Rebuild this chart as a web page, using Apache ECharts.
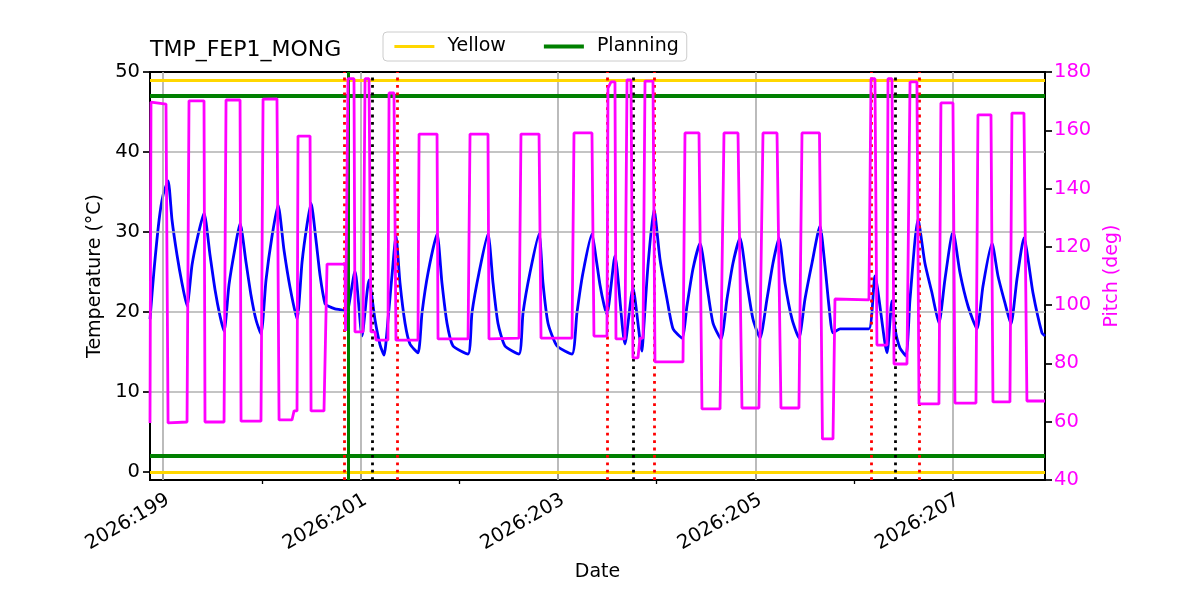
<!DOCTYPE html>
<html>
<head>
<meta charset="utf-8">
<title>TMP_FEP1_MONG</title>
<script src="https://cdn.jsdelivr.net/npm/echarts@6/dist/echarts.min.js"></script>
<style>
  html, body { margin: 0; padding: 0; background: #fff; }
  #chart { width: 1200px; height: 600px; }
</style>
</head>
<body>
<div id="chart"></div>
<script>
// time in day-of-year 2026 (fractional)
const tempDay = [
  198.868, 198.909, 198.960, 199.000, 199.051, 199.091, 199.142, 199.192, 199.243,
  199.294, 199.354, 199.415, 199.476, 199.527, 199.577, 199.618, 199.668, 199.729,
  199.780, 199.840, 199.891, 199.942, 199.992, 200.043, 200.104, 200.165, 200.225,
  200.286, 200.357, 200.408, 200.458, 200.499, 200.549, 200.590, 200.641, 200.671,
  200.742, 200.843, 200.853, 200.944, 201.015, 201.086, 201.147, 201.198, 201.238,
  201.278, 201.319, 201.359, 201.400, 201.451, 201.501, 201.582, 201.623, 201.684,
  201.775, 201.825, 201.876, 201.937, 202.089, 202.129, 202.200, 202.291, 202.342,
  202.392, 202.463, 202.605, 202.646, 202.716, 202.808, 202.848, 202.899, 202.990,
  203.142, 203.192, 203.253, 203.344, 203.385, 203.425, 203.466, 203.496, 203.577,
  203.678, 203.759, 203.851, 203.861, 203.911, 203.972, 204.033, 204.104, 204.165,
  204.256, 204.306, 204.367, 204.438, 204.509, 204.570, 204.651, 204.711, 204.772,
  204.843, 204.914, 204.975, 205.046, 205.116, 205.177, 205.238, 205.299, 205.370,
  205.440, 205.501, 205.572, 205.653, 205.704, 205.744, 205.785, 205.856, 205.987,
  206.149, 206.210, 206.332, 206.382, 206.413, 206.463, 206.524, 206.565, 206.646,
  206.716, 206.787, 206.858, 206.919, 207.000, 207.071, 207.152, 207.243, 207.304,
  207.395, 207.456, 207.527, 207.587, 207.648, 207.719, 207.810, 207.901, 207.932
];
const tempValue = [
  19.1, 25.25, 31.5, 34.6, 36.4, 31.5, 27.1, 23.6, 20.75,
  25.9, 29.6, 32.4, 27.1, 22.75, 19.5, 17.6, 23.4, 28.0,
  31.1, 26.25, 22.1, 19.0, 17.25, 24.0, 29.5, 33.4, 27.75,
  23.1, 19.1, 26.25, 30.9, 33.6, 29.0, 24.6, 21.0, 20.75,
  20.4, 20.1, 19.25, 25.1, 17.0, 24.0, 19.0, 15.9, 14.6,
  19.0, 24.6, 29.5, 23.6, 18.6, 16.0, 14.9, 19.9, 24.9,
  29.75, 23.6, 18.6, 15.75, 14.75, 19.9, 24.9, 29.75, 23.6,
  18.6, 15.75, 14.75, 19.9, 24.9, 29.75, 23.6, 18.6, 15.75,
  14.75, 19.9, 24.9, 29.75, 26.75, 23.4, 20.9, 19.75, 27.0,
  16.0, 23.0, 15.1, 16.6, 25.75, 32.9, 26.6, 21.6, 17.9,
  16.75, 20.75, 25.4, 28.6, 23.25, 18.6, 16.6, 21.6, 26.1,
  29.25, 23.6, 19.1, 16.75, 21.6, 26.1, 29.25, 23.6, 19.1,
  16.75, 21.6, 26.1, 30.75, 25.75, 20.75, 17.4, 17.9, 17.9,
  17.9, 24.5, 14.9, 21.4, 17.9, 15.5, 14.5, 21.6, 31.6,
  26.1, 22.4, 18.6, 24.1, 30.1, 24.9, 20.75, 17.9, 23.25,
  28.6, 24.5, 21.1, 18.5, 24.1, 29.25, 22.4, 17.4, 17.0
];

const pitchDay = [
  198.868, 198.878, 199.030, 199.051, 199.243, 199.263, 199.415, 199.425, 199.618, 199.638,
  199.780, 199.790, 199.992, 200.013, 200.154, 200.175, 200.306, 200.327, 200.357, 200.367,
  200.489, 200.499, 200.630, 200.661, 200.843, 200.848, 200.873, 200.934, 200.944, 201.025,
  201.046, 201.086, 201.106, 201.147, 201.157, 201.278, 201.289, 201.339, 201.359, 201.582,
  201.593, 201.775, 201.785, 202.089, 202.109, 202.291, 202.301, 202.605, 202.625, 202.808,
  202.828, 203.142, 203.162, 203.344, 203.364, 203.496, 203.506, 203.537, 203.577, 203.587,
  203.678, 203.699, 203.739, 203.759, 203.810, 203.830, 203.861, 203.881, 203.962, 203.982,
  204.266, 204.286, 204.428, 204.458, 204.641, 204.681, 204.823, 204.863, 205.035, 205.076,
  205.218, 205.258, 205.440, 205.471, 205.648, 205.678, 205.785, 205.805, 206.149, 206.170,
  206.210, 206.230, 206.332, 206.342, 206.382, 206.403, 206.534, 206.565, 206.635, 206.656,
  206.858, 206.878, 207.000, 207.020, 207.233, 207.253, 207.385, 207.405, 207.577, 207.597,
  207.719, 207.749, 207.932
];
const pitchValue = [
  59.6, 169.7, 169.0, 59.6, 59.9, 170.1, 170.1, 59.9, 59.9, 170.4,
  170.4, 60.2, 60.2, 170.7, 170.8, 60.6, 60.6, 63.7, 63.7, 158.0,
  158.0, 63.7, 63.7, 114.1, 114.1, 91.1, 177.7, 177.7, 90.8, 90.8,
  177.7, 177.7, 90.8, 90.8, 88.0, 88.0, 172.8, 172.8, 88.0, 88.0,
  158.7, 158.7, 88.4, 88.4, 158.7, 158.7, 88.4, 88.7, 158.7, 158.7,
  88.7, 88.7, 159.1, 159.1, 89.4, 89.4, 174.5, 176.6, 176.6, 88.4,
  88.4, 177.3, 177.3, 81.9, 81.9, 88.7, 88.7, 176.9, 176.9, 80.5,
  80.5, 159.1, 159.1, 64.4, 64.4, 159.1, 159.1, 64.7, 64.7, 159.1,
  159.1, 64.7, 64.7, 159.1, 159.1, 54.1, 54.1, 102.1, 101.8, 177.7,
  177.7, 86.3, 86.3, 177.7, 177.7, 79.8, 79.8, 176.6, 176.6, 66.1,
  66.1, 169.4, 169.4, 66.4, 66.4, 165.3, 165.3, 66.8, 66.8, 165.9,
  165.9, 67.1, 67.1
];

const yellowLimits = [0, 49];
const planningLimits = [2, 47];
const planningDays = [200.876];
const redEventDays = [200.836, 201.367, 203.499, 203.975, 206.167, 206.656];
const blackEventDays = [201.119, 203.763, 206.420];

const majorDays = [199, 201, 203, 205, 207];
const minorDays = [200, 202, 204, 206];
const tempTicks = [0, 10, 20, 30, 40, 50];
const tempGrid = [10, 20, 30, 40];
const xMin = 198.868, xMax = 207.932;

const FONT = 'DejaVu Sans';
const TICK_FS = 19.5;
const LABEL_FS = 19;
const chart = echarts.init(document.getElementById('chart'));

function vLines(days, style) {
  return days.map(d => ({ xAxis: d, lineStyle: style }));
}
const dotted = [2.8, 4.6];

const option = {
  animation: false,
  title: {
    text: 'TMP_FEP1_MONG',
    left: 145,
    top: 34,
    textStyle: { fontFamily: FONT, fontSize: 22, fontWeight: 'normal', color: '#000' }
  },
  legend: {
    data: ['Yellow', 'Planning'],
    left: 383,
    top: 32,
    itemWidth: 40,
    itemHeight: 14,
    itemGap: 36,
    padding: [5, 8, 5, 10],
    borderColor: '#cccccc',
    borderWidth: 1,
    borderRadius: 4,
    backgroundColor: '#fff',
    itemStyle: { opacity: 0 },
    lineStyle: { width: 'inherit' },
    textStyle: { fontFamily: FONT, fontSize: LABEL_FS, color: '#000', padding: [0, 0, 0, 8] }
  },
  grid: {
    left: 150, right: 155, top: 72, bottom: 120,
    show: true, borderColor: '#000', borderWidth: 2, backgroundColor: '#fff'
  },
  xAxis: [
    {
      type: 'value', min: xMin, max: xMax, position: 'bottom',
      name: 'Date', nameLocation: 'middle', nameGap: 83,
      nameTextStyle: { fontFamily: FONT, fontSize: LABEL_FS, color: '#000' },
      axisLine: { show: false },
      axisTick: { customValues: majorDays, length: 7, lineStyle: { color: '#000', width: 1.7 } },
      axisLabel: {
        customValues: majorDays, rotate: 30, margin: 10, verticalAlign: 'top',
        fontFamily: FONT, fontSize: TICK_FS, color: '#000',
        formatter: v => '2026:' + v
      },
      splitLine: { show: false }
    },
    {
      type: 'value', min: xMin, max: xMax, position: 'bottom',
      axisLine: { show: false },
      axisTick: { customValues: minorDays, length: 4, lineStyle: { color: '#000', width: 1.3 } },
      axisLabel: { show: false },
      splitLine: { show: false }
    }
  ],
  yAxis: [
    {
      type: 'value', min: -1, max: 50, position: 'left',
      name: 'Temperature (°C)', nameLocation: 'middle', nameGap: 45, nameRotate: 90,
      nameTextStyle: { fontFamily: FONT, fontSize: LABEL_FS, color: '#000' },
      axisLine: { show: false },
      axisTick: { customValues: tempTicks, length: 7, lineStyle: { color: '#000', width: 1.7 } },
      axisLabel: { customValues: tempTicks, margin: 10, fontFamily: FONT, fontSize: TICK_FS, color: '#000' },
      splitLine: { show: false }
    },
    {
      type: 'value', min: 40, max: 180, interval: 20, position: 'right',
      name: 'Pitch (deg)', nameLocation: 'middle', nameGap: 49, nameRotate: 90,
      nameTextStyle: { fontFamily: FONT, fontSize: LABEL_FS, color: '#ff00ff' },
      axisLine: { show: false },
      axisTick: { show: true, length: 7, lineStyle: { color: '#000', width: 1.7 } },
      axisLabel: { margin: 9, fontFamily: FONT, fontSize: TICK_FS, color: '#ff00ff' },
      splitLine: { show: false }
    }
  ],
  series: [
    {
      name: 'grid', type: 'line', data: [], z: 1, silent: true,
      markLine: {
        silent: true, symbol: ['none', 'none'], label: { show: false },
        lineStyle: { color: '#b0b0b0', width: 1.7, type: 'solid' },
        data: majorDays.map(d => ({ xAxis: d })).concat(tempGrid.map(t => ({ yAxis: t })))
      }
    },
    {
      name: 'Temperature', type: 'line', z: 3, showSymbol: false, silent: true,
      smooth: 0.2,
      data: tempDay.map((d, i) => [d, tempValue[i]]),
      lineStyle: { color: '#0000ff', width: 2.8 },
      itemStyle: { color: '#0000ff' }
    },
    {
      name: 'Yellow', type: 'line', data: [], z: 4, symbol: 'none',
      itemStyle: { color: '#ffd700' },
      lineStyle: { color: '#ffd700', width: 2.8 },
      markLine: {
        silent: true, symbol: ['none', 'none'], label: { show: false },
        lineStyle: { color: '#ffd700', width: 2.8, type: 'solid' },
        data: yellowLimits.map(v => ({ yAxis: v }))
      }
    },
    {
      name: 'Planning', type: 'line', data: [], z: 4, symbol: 'none',
      itemStyle: { color: '#008000' },
      lineStyle: { color: '#008000', width: 4 },
      markLine: {
        silent: true, symbol: ['none', 'none'], label: { show: false },
        lineStyle: { color: '#008000', width: 4, type: 'solid' },
        data: planningLimits.map(v => ({ yAxis: v }))
          .concat(vLines(planningDays, { color: '#008000', width: 3, type: 'solid' }))
      }
    },
    {
      name: 'events', type: 'line', data: [], z: 5, silent: true,
      markLine: {
        silent: true, symbol: ['none', 'none'], label: { show: false },
        lineStyle: { color: '#ff0000', width: 2.8, type: dotted },
        data: vLines(redEventDays, { color: '#ff0000', width: 2.8, type: dotted })
          .concat(vLines(blackEventDays, { color: '#000000', width: 2.8, type: dotted }))
      }
    },
    {
      name: 'Pitch', type: 'line', yAxisIndex: 1, z: 6, showSymbol: false, silent: true,
      data: pitchDay.map((d, i) => [d, pitchValue[i]]),
      lineStyle: { color: '#ff00ff', width: 2.8 },
      itemStyle: { color: '#ff00ff' }
    }
  ]
};

chart.setOption(option);
</script>
</body>
</html>
